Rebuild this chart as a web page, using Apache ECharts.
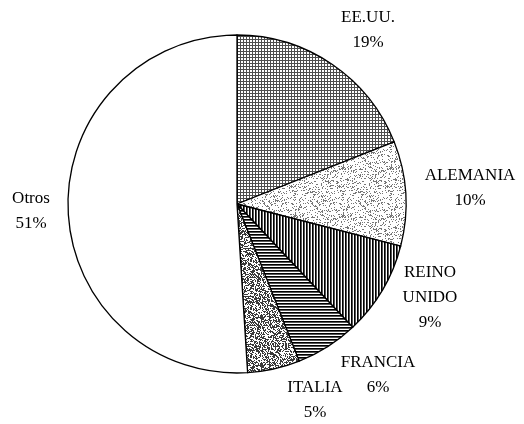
<!DOCTYPE html>
<html>
<head>
<meta charset="utf-8">
<script src="https://cdn.jsdelivr.net/npm/echarts@6/dist/echarts.min.js"></script>
<style>
  html, body { margin: 0; padding: 0; background: #fff; }
  #chart { width: 524px; height: 424px; }
</style>
</head>
<body>
<div id="chart"></div>
<script>
// Export destinations, share of total (%)
const countries = ['EE.UU.', 'ALEMANIA', 'REINO\nUNIDO', 'FRANCIA', 'ITALIA', 'Otros'];
const shares = [19, 10, 9, 6, 5, 51];

// Label anchor points (centre of each text block), in pixels
const labelSpots = [[368, 30], [470, 188], [430, 298], [378, 375], [315, 400], [31, 211]];

// Small tiled fills drawn on canvas, mimicking print hatching
function tile(w, h, paint) {
  const c = document.createElement('canvas');
  c.width = w; c.height = h;
  const g = c.getContext('2d');
  g.fillStyle = '#fff';
  g.fillRect(0, 0, w, h);
  paint(g);
  return { image: c, repeat: 'repeat' };
}
// deterministic pixel noise (integer hash) for stippled fills
function stipple(g, w, h, density, shade, seed) {
  g.fillStyle = shade;
  for (let y = 0; y < h; y++) {
    for (let x = 0; x < w; x++) {
      let k = (x * 374761393 + y * 668265263 + seed * 2246822519) >>> 0;
      k = Math.imul(k ^ (k >>> 13), 1274126177) >>> 0;
      k = (k ^ (k >>> 16)) >>> 0;
      if (k / 4294967296 < density) g.fillRect(x, y, 1, 1);
    }
  }
}
const fills = [
  // fine cross grid
  tile(3, 3, g => { g.fillStyle = '#4e4e4e'; g.fillRect(0, 0, 3, 1); g.fillRect(0, 0, 1, 3); }),
  // light stipple
  tile(48, 48, g => stipple(g, 48, 48, 0.2, '#777', 7)),
  // vertical rules
  tile(3, 1, g => { g.fillStyle = '#000'; g.fillRect(0, 0, 1, 1); g.fillStyle = '#555'; g.fillRect(1, 0, 1, 1); }),
  // horizontal rules
  tile(1, 3, g => { g.fillStyle = '#000'; g.fillRect(0, 0, 1, 1); g.fillStyle = '#555'; g.fillRect(0, 1, 1, 1); }),
  // dense stipple
  tile(48, 48, g => stipple(g, 48, 48, 0.5, '#3a3a3a', 13)),
  '#ffffff'
];

const chart = echarts.init(document.getElementById('chart'), null, { renderer: 'canvas' });
chart.setOption({
  backgroundColor: '#fff',
  animation: false,
  series: [{
    type: 'pie',
    center: [237, 204],
    radius: 169,
    startAngle: 90,
    clockwise: true,
    avoidLabelOverlap: false,
    data: countries.map((n, i) => ({
      name: n,
      value: shares[i],
      itemStyle: { color: fills[i] }
    })),
    itemStyle: { borderColor: '#000', borderWidth: 1.3 },
    label: {
      show: true,
      position: 'outside',
      alignTo: 'none',
      overflow: 'none',
      formatter: '{b}\n{d}%',
      color: '#000',
      fontFamily: 'Liberation Serif',
      fontSize: 17,
      lineHeight: 25,
      align: 'center'
    },
    labelLine: { show: false },
    labelLayout: p => ({
      x: labelSpots[p.dataIndex][0],
      y: labelSpots[p.dataIndex][1],
      align: 'center',
      verticalAlign: 'middle',
      hideOverlap: false
    }),
    emphasis: { disabled: true }
  }]
});
</script>
</body>
</html>
